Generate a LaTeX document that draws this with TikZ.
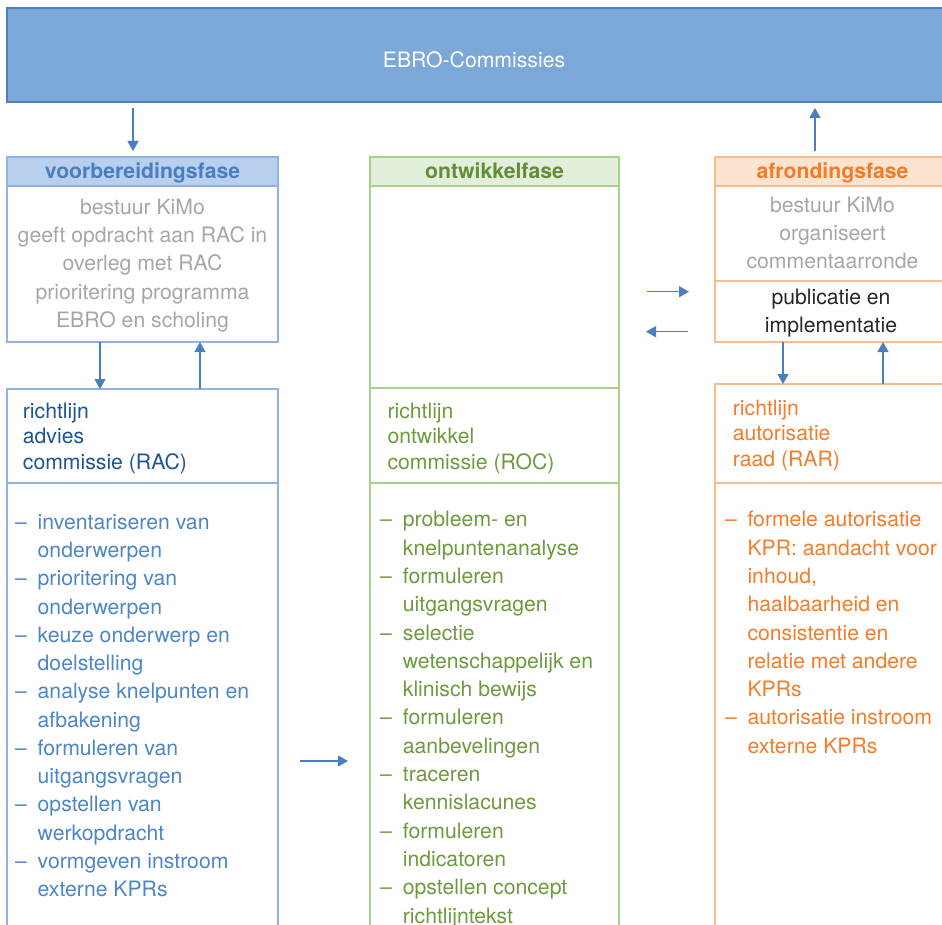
\documentclass[tikz,border=0pt]{standalone}
\usepackage{fontspec}
\setmainfont{TeX Gyre Heros}
\usetikzlibrary{arrows.meta}
\newcommand\bigfont{\fontsize{21.2}{28.3}\selectfont}
\definecolor{ebrofill}{HTML}{7BA7D9}
\definecolor{ebroline}{HTML}{4F81BD}
\definecolor{arrowblue}{HTML}{4A7EBF}
\definecolor{vline}{HTML}{8FB4E3}
\definecolor{vfill}{HTML}{B8D0EE}
\definecolor{vtext}{HTML}{4A7EC0}
\definecolor{racblue}{HTML}{1E5394}
\definecolor{listblue}{HTML}{4C86C6}
\definecolor{greytext}{HTML}{A6A6A6}
\definecolor{gline}{HTML}{A9D18E}
\definecolor{gfill}{HTML}{E2EFDA}
\definecolor{ghead}{HTML}{658C37}
\definecolor{gtext}{HTML}{6E9A3E}
\definecolor{oline}{HTML}{F8BC8C}
\definecolor{ofill}{HTML}{FDE4D0}
\definecolor{otext}{HTML}{F37C2B}
\begin{document}
\begin{tikzpicture}[x=1pt,y=-1pt,%
% common options for the boxes:
box/.style = {draw, line width=1.3pt, anchor=north west, inner sep=0, outer sep=0},
% common options for the texts:
txt/.style = {inner sep=0, anchor=base, font=\bigfont},
lft/.style = {inner sep=0, anchor=base west, font=\bigfont},
hdr/.style = {inner sep=0, anchor=base, font=\bigfont\bfseries},
arr/.style = {draw=arrowblue, line width=1.4pt, -{Triangle[length=10pt,width=11pt]}}]
\useasboundingbox (0,0) rectangle (942,925);
% boxes
\node[box, draw=ebroline, fill=ebrofill, minimum width=945pt, minimum height=94pt] (ebro) at (7,8) {};
\node[box, draw=vline, fill=vfill, minimum width=271pt, minimum height=29pt] (vhead) at (7,157) {};
\node[box, draw=vline, minimum width=271pt, minimum height=156pt] (vbest) at (7,186) {};
\node[box, draw=vline, minimum width=271pt, minimum height=94pt] (vrac) at (7,389) {};
\node[box, draw=vline, minimum width=271pt, minimum height=460pt] (vlist) at (7,483) {};
\node[box, draw=gline, fill=gfill, minimum width=249pt, minimum height=29pt] (ohead) at (370,157) {};
\node[box, draw=gline, minimum width=249pt, minimum height=202pt] (oempty) at (370,186) {};
\node[box, draw=gline, minimum width=249pt, minimum height=95pt] (oroc) at (370,388) {};
\node[box, draw=gline, minimum width=249pt, minimum height=460pt] (olist) at (370,483) {};
\node[box, draw=oline, fill=ofill, minimum width=236pt, minimum height=29pt] (ahead) at (715,157) {};
\node[box, draw=oline, minimum width=236pt, minimum height=95pt] (abest) at (715,186) {};
\node[box, draw=oline, minimum width=236pt, minimum height=61pt] (apub) at (715,281) {};
\node[box, draw=oline, minimum width=236pt, minimum height=99pt] (arar) at (715,384) {};
\node[box, draw=oline, minimum width=236pt, minimum height=460pt] (alist) at (715,483) {};
% headings
\node[txt, text=white] (tebro) at (474,67.5) {EBRO-Commissies};
\node[hdr, text=vtext] (tvhead) at (142.5,178.5) {voorbereidingsfase};
\node[hdr, text=ghead] (tohead) at (494.5,178.5) {ontwikkelfase};
\node[hdr, text=otext] (tahead) at (832.5,178.5) {afrondingsfase};
% bestuur texts
\foreach \t [count=\i] in {bestuur KiMo, geeft opdracht aan RAC in, overleg met RAC, prioritering programma, EBRO en scholing}
  \node[txt, text=greytext] (vb\i) at (142.5,{186.3+28.2*\i}) {\t};
\foreach \t [count=\i] in {bestuur KiMo, organiseert, commentaarronde}
  \node[txt, text=greytext] (ab\i) at (832.5,{184.7+28*\i}) {\t};
\node[txt, text=black!85] (ap1) at (831,305) {publicatie en};
\node[txt, text=black!85] (ap2) at (831,332) {implementatie};
% commissies
\foreach \t [count=\i] in {richtlijn, advies, commissie (RAC)}
  \node[lft, text=racblue] (vc\i) at (22.7,{393+25.4*\i}) {\t};
\foreach \t [count=\i] in {richtlijn, ontwikkel, commissie (ROC)}
  \node[lft, text=gtext] (oc\i) at (387.3,{393+25.4*\i}) {\t};
\foreach \t [count=\i] in {richtlijn, autorisatie, raad (RAR)}
  \node[lft, text=otext] (ac\i) at (732.7,{390+25.4*\i}) {\t};
% lists
\foreach \d/\t [count=\i] in {1/inventariseren van, 0/onderwerpen, 1/prioritering van, 0/onderwerpen,
  1/keuze onderwerp en, 0/doelstelling, 1/analyse knelpunten en, 0/afbakening, 1/formuleren van,
  0/uitgangsvragen, 1/opstellen van, 0/werkopdracht, 1/vormgeven instroom, 0/externe KPRs}
{\node[lft, text=listblue] (vl\i) at (37.5,{501+28.26*\i}) {\t};
 \ifnum\d=1 \node[lft, text=listblue] (vd\i) at (15,{501+28.26*\i}) {–}; \fi}
\foreach \d/\t [count=\i] in {1/probleem- en, 0/knelpuntenanalyse, 1/formuleren, 0/uitgangsvragen,
  1/selectie, 0/wetenschappelijk en, 0/klinisch bewijs, 1/formuleren, 0/aanbevelingen, 1/traceren,
  0/kennislacunes, 1/formuleren, 0/indicatoren, 1/opstellen concept, 0/richtlijntekst}
{\node[lft, text=gtext] (ol\i) at (402.7,{498.5+28.3*\i}) {\t};
 \ifnum\d=1 \node[lft, text=gtext] (od\i) at (380,{498.5+28.3*\i}) {–}; \fi}
\foreach \d/\t [count=\i] in {1/formele autorisatie, 0/KPR: aandacht voor, 0/{inhoud,}, 0/haalbaarheid en,
  0/consistentie en, 0/relatie met andere, 0/KPRs, 1/autorisatie instroom, 0/externe KPRs}
{\node[lft, text=otext] (al\i) at (747.3,{498.5+28.3*\i}) {\t};
 \ifnum\d=1 \node[lft, text=otext] (ad\i) at (725,{498.5+28.3*\i}) {–}; \fi}
% arrows
\draw[arr] ([xshift=126pt,yshift=-6pt]ebro.south west) -- ([xshift=126pt,yshift=6pt]vhead.north west);
\draw[arr] ([xshift=100pt,yshift=6pt]ahead.north west) -- ([xshift=808pt,yshift=-6pt]ebro.south west);
\draw[arr] ([xshift=93pt]vbest.south west) -- ([xshift=93pt]vrac.north west);
\draw[arr] ([xshift=193pt]vrac.north west) -- ([xshift=193pt]vbest.south west);
\draw[arr] ([xshift=68pt]apub.south west) -- ([xshift=68pt]arar.north west);
\draw[arr] ([xshift=168pt]arar.north west) -- ([xshift=168pt]apub.south west);
\draw[arr] ([shift={(28,105.7)}]oempty.north east) -- ([shift={(-26,10.7)}]apub.north west);
\draw[arr] ([shift={(-27,50.7)}]apub.north west) -- ([shift={(27,145.7)}]oempty.north east);
\draw[arr] ([shift={(22,278)}]vlist.north east) -- ([shift={(-22,278)}]olist.north west);
\end{tikzpicture}
\end{document}
